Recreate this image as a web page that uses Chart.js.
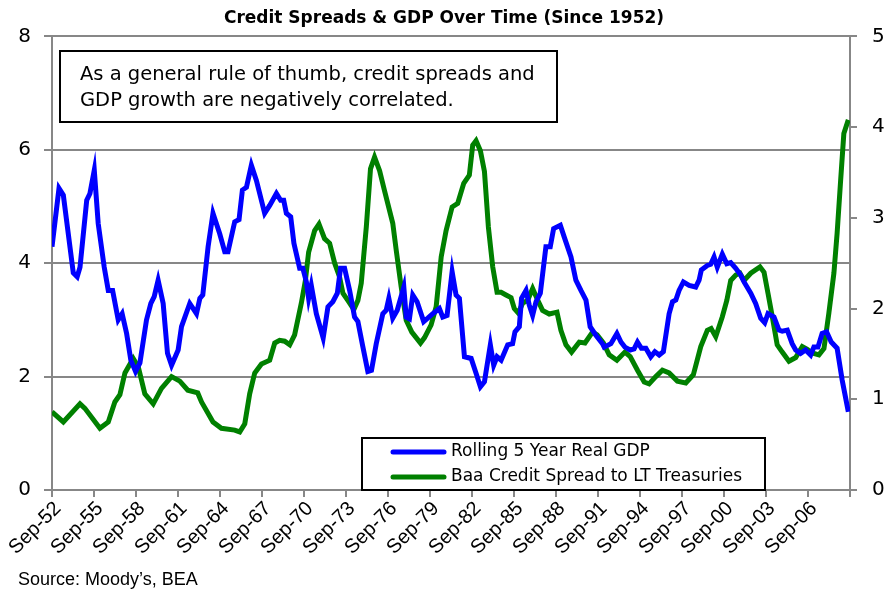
<!DOCTYPE html>
<html>
<head>
<meta charset="utf-8">
<title>Credit Spreads & GDP Over Time</title>
<script src="https://cdn.jsdelivr.net/npm/chart.js@4.4.1/dist/chart.umd.min.js"></script>
<style>
  html, body { margin: 0; padding: 0; background: #fff; }
  #wrap { width: 888px; height: 595px; }
</style>
</head>
<body>
<div id="wrap"><canvas id="chart" width="888" height="595"></canvas></div>
<script>
// Rolling 5 year real GDP growth (%), left axis
const gdpYears = [
  1952.67, 1953.17, 1953.48, 1954.19, 1954.47, 1954.67, 1955.15, 1955.38, 1955.69, 1955.97,
  1956.40, 1956.69, 1957.00, 1957.40, 1957.68, 1958.00, 1958.30, 1958.64, 1958.95, 1959.42,
  1959.73, 1959.97, 1960.25, 1960.61, 1960.92, 1961.21, 1961.68, 1961.92, 1962.51, 1962.99,
  1963.23, 1963.44, 1963.82, 1964.17, 1964.65, 1965.01, 1965.24, 1965.72, 1966.03, 1966.27,
  1966.56, 1966.91, 1967.27, 1967.86, 1968.22, 1968.70, 1969.00, 1969.22, 1969.41, 1969.72,
  1969.95, 1970.36, 1970.59, 1970.84, 1971.00, 1971.19, 1971.55, 1972.04, 1972.38, 1972.73,
  1973.05, 1973.28, 1973.57, 1973.93, 1974.28, 1974.52, 1974.87, 1975.23, 1975.49, 1975.83,
  1976.30, 1976.54, 1976.73, 1977.01, 1977.33, 1977.80, 1977.97, 1978.20, 1978.44, 1978.75,
  1979.22, 1979.51, 1979.87, 1980.34, 1980.58, 1980.89, 1981.25, 1981.53, 1981.77, 1982.13,
  1982.61, 1982.96, 1983.27, 1983.56, 1983.98, 1984.22, 1984.46, 1984.75, 1985.22, 1985.57,
  1985.74, 1986.05, 1986.21, 1986.53, 1986.76, 1987.00, 1987.24, 1987.55, 1987.95, 1988.26,
  1988.50, 1988.98, 1989.26, 1989.74, 1990.09, 1990.45, 1990.81, 1991.11, 1991.52, 1991.99,
  1992.11, 1992.59, 1993.02, 1993.31, 1993.59, 1993.97, 1994.25, 1994.49, 1994.77, 1995.09,
  1995.44, 1995.73, 1996.04, 1996.34, 1996.75, 1996.99, 1997.23, 1997.46, 1997.77, 1998.18,
  1998.65, 1998.89, 1999.05, 1999.48, 1999.72, 1999.96, 2000.19, 2000.55, 2000.87, 2001.15,
  2001.51, 2001.86, 2002.10, 2002.58, 2002.93, 2003.29, 2003.58, 2003.81, 2004.24, 2004.60,
  2004.83, 2005.19, 2005.54, 2005.79, 2006.14, 2006.50, 2006.86, 2007.09, 2007.38, 2007.68,
  2008.00, 2008.33, 2008.75, 2009.11, 2009.55
];
const gdpValues = [
  4.29, 5.32, 5.20, 3.83, 3.76, 3.93, 5.11, 5.23, 5.64, 4.70,
  3.93, 3.52, 3.52, 3.00, 3.11, 2.76, 2.29, 2.09, 2.24, 3.00,
  3.29, 3.41, 3.70, 3.29, 2.41, 2.20, 2.47, 2.88, 3.29, 3.11,
  3.38, 3.44, 4.29, 4.88, 4.52, 4.20, 4.20, 4.73, 4.77, 5.29,
  5.34, 5.73, 5.46, 4.88, 5.02, 5.23, 5.11, 5.11, 4.88, 4.82,
  4.35, 3.91, 3.91, 3.67, 3.38, 3.61, 3.11, 2.68, 3.23, 3.32,
  3.47, 3.91, 3.91, 3.52, 3.05, 2.97, 2.53, 2.09, 2.11, 2.58,
  3.11, 3.17, 3.38, 3.03, 3.17, 3.58, 3.05, 3.02, 3.44, 3.32,
  2.97, 3.03, 3.11, 3.20, 3.05, 3.08, 3.85, 3.44, 3.38, 2.35,
  2.32, 2.06, 1.82, 1.91, 2.56, 2.20, 2.35, 2.29, 2.56, 2.58,
  2.79, 2.88, 3.38, 3.52, 3.26, 3.08, 3.32, 3.47, 4.29, 4.29,
  4.61, 4.67, 4.46, 4.11, 3.70, 3.52, 3.35, 2.88, 2.73, 2.58,
  2.52, 2.58, 2.76, 2.61, 2.52, 2.47, 2.49, 2.61, 2.50, 2.50,
  2.35, 2.44, 2.38, 2.44, 3.11, 3.32, 3.35, 3.52, 3.67, 3.61,
  3.58, 3.70, 3.88, 3.96, 3.98, 4.11, 3.93, 4.16, 3.99, 4.01,
  3.91, 3.79, 3.67, 3.47, 3.29, 3.03, 2.95, 3.11, 3.05, 2.82,
  2.80, 2.82, 2.58, 2.47, 2.41, 2.47, 2.38, 2.52, 2.52, 2.76,
  2.79, 2.61, 2.50, 1.94, 1.38
];

// Baa credit spread to long-term Treasuries (%), right axis
const spreadYears = [
  1952.67, 1953.48, 1954.67, 1955.02, 1956.09, 1956.69, 1957.16, 1957.52, 1957.88, 1958.47,
  1958.83, 1959.30, 1959.90, 1960.49, 1961.21, 1961.80, 1962.37, 1963.08, 1963.35, 1964.17,
  1964.77, 1965.72, 1966.08, 1966.44, 1966.79, 1967.15, 1967.63, 1968.22, 1968.58, 1968.93,
  1969.29, 1969.65, 1970.00, 1970.48, 1970.77, 1971.00, 1971.43, 1971.74, 1972.14, 1972.50,
  1972.86, 1973.21, 1973.45, 1973.80, 1974.23, 1974.52, 1974.76, 1975.12, 1975.42, 1975.71,
  1976.07, 1976.42, 1977.01, 1977.26, 1977.61, 1977.97, 1978.37, 1978.99, 1979.28, 1979.75,
  1980.11, 1980.47, 1980.82, 1981.25, 1981.65, 1982.08, 1982.48, 1982.72, 1982.96, 1983.27,
  1983.56, 1983.84, 1984.15, 1984.46, 1984.75, 1985.10, 1985.46, 1985.69, 1985.98, 1986.29,
  1986.64, 1987.00, 1987.31, 1987.71, 1988.19, 1988.74, 1989.02, 1989.38, 1989.78, 1990.33,
  1990.74, 1991.28, 1991.61, 1992.06, 1992.47, 1993.02, 1993.59, 1993.97, 1994.49, 1994.97,
  1995.32, 1995.80, 1996.27, 1996.75, 1997.34, 1997.94, 1998.48, 1999.01, 1999.48, 1999.75,
  2000.08, 2000.55, 2000.87, 2001.15, 2001.51, 2001.81, 2002.10, 2002.58, 2003.24, 2003.53,
  2003.81, 2004.12, 2004.47, 2004.83, 2005.31, 2005.79, 2006.26, 2006.62, 2006.97, 2007.45,
  2007.81, 2008.16, 2008.52, 2008.75, 2009.00, 2009.23, 2009.55
];
const spreadValues = [
  0.86, 0.75, 0.95, 0.90, 0.68, 0.75, 0.97, 1.05, 1.29, 1.45,
  1.36, 1.06, 0.95, 1.12, 1.25, 1.20, 1.10, 1.07, 0.97, 0.75,
  0.68, 0.66, 0.64, 0.73, 1.06, 1.29, 1.39, 1.43, 1.62, 1.65,
  1.64, 1.60, 1.71, 2.06, 2.31, 2.62, 2.86, 2.93, 2.77, 2.72,
  2.50, 2.35, 2.17, 2.09, 1.99, 2.09, 2.28, 2.90, 3.54, 3.67,
  3.52, 3.30, 2.94, 2.64, 2.24, 1.87, 1.74, 1.62, 1.68, 1.82,
  2.02, 2.57, 2.86, 3.12, 3.16, 3.38, 3.47, 3.80, 3.85, 3.74,
  3.51, 2.90, 2.46, 2.18, 2.18, 2.15, 2.12, 2.00, 1.95, 2.06,
  2.09, 2.22, 2.11, 1.98, 1.94, 1.96, 1.76, 1.60, 1.52, 1.63,
  1.62, 1.74, 1.71, 1.62, 1.49, 1.43, 1.52, 1.47, 1.32, 1.19,
  1.17, 1.25, 1.32, 1.29, 1.20, 1.18, 1.27, 1.58, 1.76, 1.78,
  1.69, 1.91, 2.09, 2.31, 2.37, 2.39, 2.31, 2.39, 2.46, 2.40,
  2.17, 1.91, 1.60, 1.52, 1.42, 1.46, 1.58, 1.55, 1.51, 1.49,
  1.56, 1.95, 2.39, 2.83, 3.41, 3.93, 4.08
];

// x axis ticks every three years, starting Sep-52
const tickYears = [
  1952.67, 1955.67, 1958.67, 1961.67, 1964.67, 1967.67, 1970.67, 1973.67, 1976.67, 1979.67,
  1982.67, 1985.67, 1988.67, 1991.67, 1994.67, 1997.67, 2000.67, 2003.67, 2006.67, 2009.67
];
const tickLabels = [
  "Sep-52", "Sep-55", "Sep-58", "Sep-61", "Sep-64", "Sep-67", "Sep-70", "Sep-73", "Sep-76", "Sep-79",
  "Sep-82", "Sep-85", "Sep-88", "Sep-91", "Sep-94", "Sep-97", "Sep-00", "Sep-03", "Sep-06", ""
];

const seriesNames = ["Rolling 5 Year Real GDP", "Baa Credit Spread to LT Treasuries"];
const noteLines = [
  "As a general rule of thumb, credit spreads and",
  "GDP growth are negatively correlated."
];
const sourceText = "Source: Moody\u2019s, BEA";

const AXIS_GREY = "#878787";
const FONT = "'DejaVu Sans', Verdana, sans-serif";
const FONT_NARROW = "'Liberation Sans', Arial, sans-serif";

const toPoints = (xs, ys) => xs.map((x, i) => ({ x: x, y: ys[i] }));

// note box, legend box and source line
const overlay = {
  id: "overlay",
  afterDatasetsDraw(chart) {
    const ctx = chart.ctx;
    ctx.save();

    // note box, top left
    ctx.fillStyle = "#fff";
    ctx.fillRect(60, 51, 497, 71);
    ctx.strokeStyle = "#000";
    ctx.lineWidth = 2;
    ctx.strokeRect(60, 51, 497, 71);
    ctx.fillStyle = "#000";
    ctx.font = "19.5px " + FONT;
    ctx.textBaseline = "middle";
    ctx.textAlign = "left";
    ctx.fillText(noteLines[0], 80, 75);
    ctx.fillText(noteLines[1], 80, 101);

    // legend box, bottom of the plot
    ctx.fillStyle = "#fff";
    ctx.fillRect(362, 438, 403, 52);
    ctx.strokeRect(362, 438, 403, 52);
    ctx.font = "17px " + FONT;
    chart.data.datasets.forEach((ds, i) => {
      const y = 452 + i * 25;
      ctx.strokeStyle = ds.borderColor;
      ctx.lineWidth = 5;
      ctx.lineCap = "round";
      ctx.beginPath();
      ctx.moveTo(393, y);
      ctx.lineTo(444, y);
      ctx.stroke();
      ctx.fillStyle = "#000";
      ctx.fillText(ds.label, 451, y);
    });

    ctx.font = "18px " + FONT_NARROW;
    ctx.fillText(sourceText, 18, 580);
    ctx.restore();
  }
};

new Chart(document.getElementById("chart"), {
  type: "line",
  data: {
    datasets: [
      {
        label: seriesNames[0],
        data: toPoints(gdpYears, gdpValues),
        borderColor: "#0000ff",
        borderWidth: 5,
        pointRadius: 0,
        tension: 0,
        yAxisID: "y"
      },
      {
        label: seriesNames[1],
        data: toPoints(spreadYears, spreadValues),
        borderColor: "#008000",
        borderWidth: 5,
        pointRadius: 0,
        tension: 0,
        yAxisID: "y2"
      }
    ]
  },
  options: {
    responsive: false,
    animation: false,
    layout: { padding: 0 },
    plugins: {
      legend: { display: false },
      tooltip: { enabled: false },
      title: {
        display: true,
        text: "Credit Spreads & GDP Over Time (Since 1952)",
        color: "#000",
        font: { family: FONT, size: 17, weight: "bold" },
        padding: { top: 8, bottom: 8 }
      }
    },
    scales: {
      x: {
        type: "linear",
        min: 1952.67,
        max: 2009.67,
        afterBuildTicks: (scale) => {
          scale.ticks = tickYears.map((v) => ({ value: v }));
        },
        afterFit: (scale) => { scale.height = 105; },
        border: { color: AXIS_GREY, width: 2 },
        grid: {
          drawOnChartArea: false,
          drawTicks: true,
          tickLength: 7,
          color: AXIS_GREY,
          lineWidth: 2
        },
        ticks: {
          autoSkip: false,
          maxRotation: 45,
          minRotation: 45,
          padding: 0,
          labelOffset: 6,
          color: "#000",
          font: { family: FONT_NARROW, size: 20 },
          callback: (value, index) => tickLabels[index]
        }
      },
      y: {
        position: "left",
        min: 0,
        max: 8,
        afterFit: (scale) => { scale.width = 52; },
        border: { color: AXIS_GREY, width: 2 },
        grid: { color: AXIS_GREY, lineWidth: 2, tickLength: 8 },
        ticks: {
          stepSize: 2,
          padding: 13,
          color: "#000",
          font: { family: FONT, size: 20 }
        }
      },
      y2: {
        position: "right",
        min: 0,
        max: 5,
        afterFit: (scale) => { scale.width = 38; },
        border: { color: AXIS_GREY, width: 2 },
        grid: { drawOnChartArea: false, color: AXIS_GREY, lineWidth: 2, tickLength: 7 },
        ticks: {
          stepSize: 1,
          padding: 15,
          color: "#000",
          font: { family: FONT, size: 20 }
        }
      }
    }
  },
  plugins: [overlay]
});
</script>
</body>
</html>
